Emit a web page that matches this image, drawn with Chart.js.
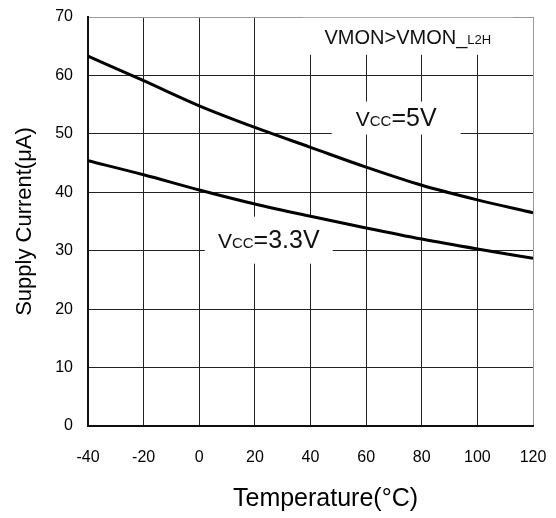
<!DOCTYPE html>
<html>
<head>
<meta charset="utf-8">
<script src="https://cdn.jsdelivr.net/npm/chart.js@4.4.9/dist/chart.umd.min.js"></script>
<style>
  html, body { margin: 0; padding: 0; background: #ffffff; }
  #wrap { width: 556px; height: 518px; position: relative; }
</style>
</head>
<body>
<div id="wrap"><canvas id="supplyChart"></canvas></div>
<script>
const temperatures = [-40, -20, 0, 20, 40, 60, 80, 100, 120];
const current5V = [63.3, 59.1, 54.8, 51.1, 47.7, 44.3, 41.2, 38.7, 36.5];
const current33V = [45.4, 43.0, 40.4, 38.0, 35.9, 33.9, 32.0, 30.3, 28.7];
const xTitle = 'Temperature(°C)';
const yTitle = 'Supply Current(μA)';

const fontFamily = "'Liberation Sans', Arial, sans-serif";

// text notes on the plot, centred at a data position, each on a white patch
const notes = [
    { x: 75, y: 66.7, w: 210, h: 37, parts: [['VMON>VMON_', 20], ['L2H', 13]] },
    { x: 70.8, y: 52.7, w: 129, h: 33, parts: [['V', 21], ['CC', 15], ['=5V', 25]] },
    { x: 25, y: 31.8, w: 128, h: 47, parts: [['V', 21], ['CC', 15], ['=3.3V', 25]] }
];

const toPoints = values => values.map((v, i) => ({ x: temperatures[i], y: v }));

const notesPlugin = {
    id: 'notes',
    beforeDatasetsDraw(chart) {
        const { ctx, scales } = chart;
        ctx.save();
        notes.forEach(note => {
            const cx = scales.x.getPixelForValue(note.x);
            const cy = scales.y.getPixelForValue(note.y);
            ctx.fillStyle = '#ffffff';
            ctx.fillRect(cx - note.w / 2, cy - note.h / 2, note.w, note.h);
            let total = 0;
            note.parts.forEach(([text, size]) => {
                ctx.font = `${size}px ${fontFamily}`;
                total += ctx.measureText(text).width;
            });
            let x = cx - total / 2;
            ctx.fillStyle = '#111111';
            ctx.textBaseline = 'alphabetic';
            ctx.textAlign = 'left';
            note.parts.forEach(([text, size]) => {
                ctx.font = `${size}px ${fontFamily}`;
                ctx.fillText(text, x, cy + 8);
                x += ctx.measureText(text).width;
            });
        });
        ctx.restore();
    },
    afterDraw(chart) {
        // x axis title sits a little right of the plot centre in the original
        const { ctx, chartArea } = chart;
        ctx.save();
        ctx.font = `25px ${fontFamily}`;
        ctx.fillStyle = '#000000';
        ctx.textAlign = 'center';
        ctx.textBaseline = 'middle';
        ctx.fillText(xTitle, (chartArea.left + chartArea.right) / 2 + 15, chartArea.bottom + 73);
        ctx.restore();
    }
};

const lineStyle = {
    borderColor: '#000000',
    borderWidth: 3,
    pointRadius: 0,
    tension: 0.4,
    cubicInterpolationMode: 'monotone',
    fill: false
};

new Chart(document.getElementById('supplyChart').getContext('2d'), {
    type: 'line',
    data: {
        datasets: [
            { label: 'Vcc=5V', data: toPoints(current5V), ...lineStyle },
            { label: 'Vcc=3.3V', data: toPoints(current33V), ...lineStyle }
        ]
    },
    options: {
        responsive: true,
        maintainAspectRatio: false,
        animation: false,
        layout: { padding: { top: 17, right: 23, bottom: 0, left: 0 } },
        plugins: { legend: { display: false }, tooltip: { enabled: false } },
        scales: {
            x: {
                type: 'linear',
                min: -40,
                max: 120,
                afterFit: scale => {
                    scale.height = 92;
                    scale.paddingLeft = 0;
                    scale.paddingRight = 0;
                },
                border: { color: '#111111', width: 2 },
                grid: {
                    drawTicks: false,
                    color: ctx => ctx.tick && ctx.tick.value === 120 ? '#999999' : '#222222',
                    lineWidth: 1
                },
                ticks: {
                    stepSize: 20,
                    padding: 22,
                    maxRotation: 0,
                    color: '#000000',
                    font: { family: fontFamily, size: 16 }
                },
                title: { display: false, text: xTitle }
            },
            y: {
                min: 0,
                max: 70,
                afterFit: scale => {
                    scale.width = 88;
                    scale.paddingTop = 0;
                    scale.paddingBottom = 0;
                },
                border: { color: '#111111', width: 2 },
                grid: {
                    drawTicks: false,
                    color: ctx => ctx.tick && ctx.tick.value === 70 ? '#999999' : '#222222',
                    lineWidth: 1
                },
                ticks: {
                    stepSize: 10,
                    padding: 15,
                    color: '#000000',
                    font: { family: fontFamily, size: 16 }
                },
                title: {
                    display: true,
                    text: yTitle,
                    color: '#000000',
                    padding: { top: 12, bottom: 0 },
                    font: { family: fontFamily, size: 22 }
                }
            }
        }
    },
    plugins: [notesPlugin]
});
</script>
</body>
</html>
